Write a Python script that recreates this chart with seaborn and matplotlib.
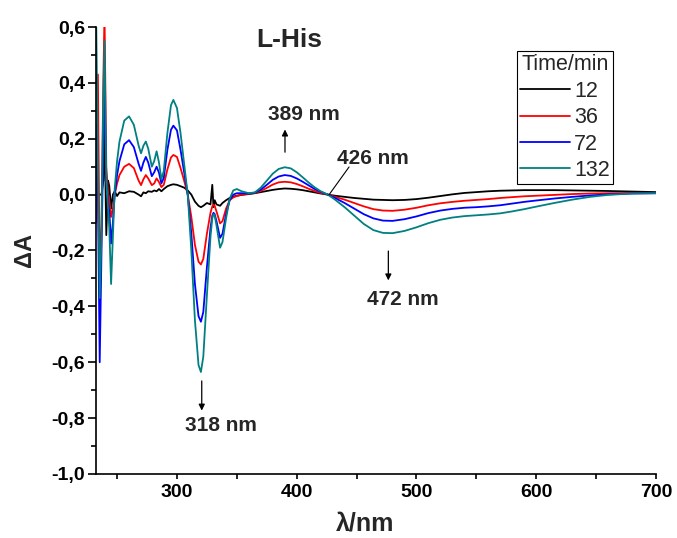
import numpy as np
import pandas as pd
import matplotlib
matplotlib.use("Agg")
import matplotlib.pyplot as plt
import seaborn as sns
from matplotlib.ticker import MultipleLocator, FuncFormatter
from matplotlib.lines import Line2D

sns.set_theme(style="ticks")
plt.rcParams['font.family'] = ['Liberation Sans', 'DejaVu Sans']

wavelength = [232.5, 234, 235.5, 237, 238.5, 239.5, 241, 242.5, 243.5, 245, 246.5, 248, 250, 252,
              256, 260, 264, 268, 270, 272, 274, 276, 279, 281, 283, 285, 287, 289, 292, 295, 297,
              300, 303, 306, 309, 312, 315, 318, 320, 322, 325, 328, 329.5, 330.5, 331.5, 333, 336,
              338, 341, 344, 347, 350, 354, 360, 365, 370, 375, 380, 385, 390, 395, 400, 405, 410,
              415, 420, 426, 432, 440, 448, 456, 464, 472, 480, 490, 500, 510, 520, 530, 540, 550,
              560, 570, 580, 590, 600, 615, 630, 645, 660, 680, 700]

dA_12 = [0.0, 0.0, 0.0, 0.0, 0.05, 0.24, -0.145, 0.05, 0.03, -0.05, 0.0, 0.012, -0.005, 0.008,
         0.005, 0.012, 0.01, 0.0, -0.006, 0.008, 0.005, 0.012, 0.01, 0.015, 0.012, 0.02, 0.012, 0.02,
         0.03, 0.035, 0.037, 0.035, 0.03, 0.025, 0.015, 0.0, -0.025, -0.04, -0.045, -0.04, -0.03,
         -0.035, 0.035, -0.045, -0.02, -0.035, -0.04, -0.03, -0.02, -0.012, -0.007, -0.004, -0.001,
         0.002, 0.005, 0.009, 0.013, 0.017, 0.02, 0.022, 0.021, 0.019, 0.016, 0.012, 0.008, 0.004,
         0.0, -0.004, -0.008, -0.012, -0.015, -0.018, -0.019, -0.02, -0.019, -0.016, -0.011, -0.005,
         0.001, 0.006, 0.009, 0.012, 0.014, 0.015, 0.016, 0.016, 0.016, 0.015, 0.014, 0.013, 0.011,
         0.009]

dA_36 = [-0.1, 0.43, -0.3, -0.1, 0.4, 0.65, 0.1, 0.0, -0.02, -0.08, -0.05, 0.0, 0.04, 0.07,
         0.1, 0.11, 0.095, 0.05, 0.034, 0.055, 0.07, 0.058, 0.034, 0.04, 0.058, 0.045, 0.027, 0.035,
         0.09, 0.133, 0.142, 0.135, 0.095, 0.05, 0.0, -0.08, -0.18, -0.24, -0.25, -0.23, -0.14,
         -0.065, -0.042, -0.036, -0.04, -0.06, -0.103, -0.095, -0.05, -0.02, -0.01, -0.005, 0.0,
         0.003, 0.006, 0.013, 0.024, 0.036, 0.044, 0.046, 0.044, 0.038, 0.03, 0.021, 0.013, 0.006,
         0.0, -0.008, -0.018, -0.03, -0.042, -0.052, -0.057, -0.058, -0.054, -0.047, -0.038, -0.031,
         -0.026, -0.022, -0.019, -0.016, -0.012, -0.009, -0.006, -0.004, -0.001, 0.002, 0.004, 0.005,
         0.006, 0.006]

dA_72 = [0.25, 0.0, -0.6, -0.2, 0.2, 0.36, 0.05, -0.03, -0.06, -0.175, -0.1, 0.0, 0.07, 0.12,
         0.18, 0.195, 0.17, 0.11, 0.085, 0.115, 0.135, 0.115, 0.066, 0.08, 0.1, 0.078, 0.04, 0.06,
         0.16, 0.232, 0.247, 0.23, 0.16, 0.08, 0.0, -0.14, -0.32, -0.435, -0.455, -0.42, -0.26,
         -0.12, -0.075, -0.065, -0.07, -0.095, -0.155, -0.14, -0.07, -0.02, 0.0, 0.005, 0.005,
         0.004, 0.007, 0.018, 0.035, 0.053, 0.065, 0.07, 0.067, 0.058, 0.046, 0.033, 0.02, 0.01,
         0.0, -0.012, -0.03, -0.05, -0.07, -0.085, -0.093, -0.094, -0.088, -0.078, -0.066, -0.057,
         -0.051, -0.047, -0.045, -0.042, -0.038, -0.032, -0.026, -0.021, -0.014, -0.008, -0.003,
         0.001, 0.004, 0.005]

dA_132 = [0.65, 0.1, -0.37, -0.15, 0.35, 0.55, 0.05, -0.05, -0.12, -0.32, -0.15, 0.02, 0.12, 0.19,
          0.265, 0.28, 0.25, 0.175, 0.148, 0.175, 0.19, 0.165, 0.1, 0.12, 0.155, 0.115, 0.055, 0.085,
          0.22, 0.32, 0.339, 0.31, 0.22, 0.11, 0.0, -0.2, -0.45, -0.61, -0.635, -0.58, -0.36,
          -0.15, -0.085, -0.07, -0.075, -0.11, -0.19, -0.17, -0.085, -0.015, 0.015, 0.02, 0.012,
          0.005, 0.008, 0.025, 0.05, 0.075, 0.092, 0.098, 0.094, 0.08, 0.062, 0.043, 0.026, 0.012,
          0.0, -0.018, -0.045, -0.075, -0.105, -0.127, -0.137, -0.138, -0.13, -0.117, -0.102, -0.09,
          -0.082, -0.077, -0.074, -0.071, -0.067, -0.06, -0.052, -0.043, -0.03, -0.018, -0.008,
          -0.001, 0.004, 0.005]

times = ["12", "36", "72", "132"]
colors = ["#000000", "#ff0000", "#0000ff", "#008080"]
series = [dA_12, dA_36, dA_72, dA_132]

frames = []
for t, vals in zip(times, series):
    frames.append(pd.DataFrame({"wl": wavelength, "dA": vals, "Time": t}))
df = pd.concat(frames, ignore_index=True)

fig = plt.figure(figsize=(6.77, 5.38), dpi=100)
ax = fig.add_axes([0.1418, 0.119, 0.8272, 0.8308])

palette = dict(zip(times, colors))
sns.lineplot(data=df, x="wl", y="dA", hue="Time", hue_order=times, palette=palette,
             sort=False, estimator=None, linewidth=1.3, legend=False, ax=ax)

ax.set_xlim(232.4, 700)
ax.set_ylim(-1.0, 0.6)
ax.xaxis.set_major_locator(MultipleLocator(100))
ax.xaxis.set_minor_locator(MultipleLocator(50))
ax.yaxis.set_major_locator(MultipleLocator(0.2))
ax.yaxis.set_minor_locator(MultipleLocator(0.1))
ax.yaxis.set_major_formatter(FuncFormatter(lambda v, p: f"{v:.1f}".replace(".", ",").replace("-0,0", "0,0")))
ax.xaxis.set_major_formatter(FuncFormatter(lambda v, p: f"{v:.0f}"))

for s in ["top", "right"]:
    ax.spines[s].set_visible(False)
for s in ["left", "bottom"]:
    ax.spines[s].set_linewidth(1.2)
    ax.spines[s].set_color("black")

ax.tick_params(axis="both", which="both", direction="out", width=1.2, colors="black")
ax.tick_params(axis="y", which="major", length=6, labelsize=14, pad=2)
ax.tick_params(axis="y", which="minor", length=3.5)
ax.tick_params(axis="x", which="major", length=3.5, labelsize=14, pad=4)
ax.tick_params(axis="x", which="minor", length=3.5)
for lab in ax.get_xticklabels() + ax.get_yticklabels():
    lab.set_fontweight("bold")

ax.set_xlabel("λ/nm", fontsize=18, fontweight="bold")
ax.xaxis.set_label_coords(0.48, -0.085)
ax.set_ylabel("ΔA", fontsize=17, fontweight="bold")
ax.yaxis.set_label_coords(-0.108, 0.5)

ax.text(393.6, 0.553, "L-His", fontsize=19, fontweight="bold", ha="center", va="center")

# annotations
ax.annotate("", xy=(390.2, 0.243), xytext=(390.2, 0.142),
            arrowprops=dict(arrowstyle="-|>", color="black", lw=0.9, mutation_scale=9))
ax.text(406, 0.288, "389 nm", fontsize=15, fontweight="bold", ha="center", va="center")

ax.plot([426.9, 443.7], [-0.001, 0.099], color="black", lw=0.8)
ax.text(464, 0.131, "426 nm", fontsize=15, fontweight="bold", ha="center", va="center")

ax.annotate("", xy=(476.5, -0.317), xytext=(476.5, -0.192),
            arrowprops=dict(arrowstyle="-|>", color="black", lw=0.9, mutation_scale=9))
ax.text(489, -0.377, "472 nm", fontsize=15, fontweight="bold", ha="center", va="center")

ax.annotate("", xy=(320.7, -0.783), xytext=(320.7, -0.657),
            arrowprops=dict(arrowstyle="-|>", color="black", lw=0.9, mutation_scale=9))
ax.text(336.4, -0.827, "318 nm", fontsize=15, fontweight="bold", ha="center", va="center")

handles = [Line2D([], [], color=c, lw=1.3) for c in colors]
leg = ax.legend(handles, times, title="Time/min", loc="upper right",
                bbox_to_anchor=(0.923, 0.946), frameon=True, fancybox=False,
                fontsize=15.5, title_fontsize=15.5, handlelength=2.3, handletextpad=0.2,
                labelspacing=0.25, borderpad=0.15, borderaxespad=0.0, framealpha=1)
leg.get_frame().set_edgecolor("black")
leg.get_frame().set_linewidth(0.8)

fig.savefig("out.png", dpi=100)
